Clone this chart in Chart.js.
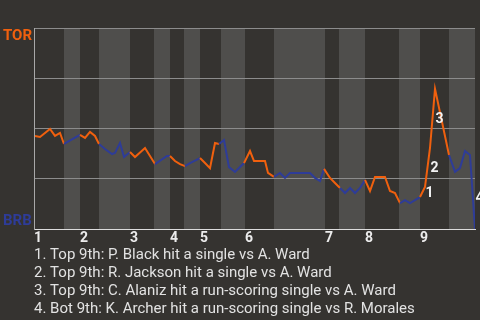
<!DOCTYPE html>
<html>
<head>
<meta charset="utf-8">
<script src="https://cdn.jsdelivr.net/npm/chart.js@4.4.1/dist/chart.umd.min.js"></script>
<style>
  html, body { margin: 0; padding: 0; background: #353330; }
  #wrap { width: 480px; height: 320px; position: relative; }
</style>
</head>
<body>
<div id="wrap"><canvas id="wpChart"></canvas></div>
<script>
// innings on the x axis (game progress units)
const innings     = ['1', '2', '3', '4', '5', '6', '7', '8', '9'];
const inningStart = [0, 9.2, 19.2, 27.2, 33.2, 42.2, 58.2, 66.2, 77.2];
const topHalfEnd  = [6, 13, 24, 30, 37.4, 48, 61, 73, 83];
const gameEnd     = 88.2;

// TOR win probability (%) through the game
const progress  = [0.2, 1.2, 3.2, 4.2, 5.2, 6.0, 9.2, 10.2, 11.2, 12.2, 13.0, 14.2, 15.6, 16.2, 17.2, 18.0,
                   19.2, 20.2, 22.2, 24.2, 26.6, 27.2, 28.2, 29.2, 30.2, 31.2, 33.2, 34.2, 35.2, 36.2, 37.0,
                   38.0, 39.0, 40.2, 42.0, 43.2, 44.0, 46.2, 46.8, 48.0, 49.2, 50.2, 51.2, 55.2, 56.2, 57.2,
                   58.0, 59.2, 60.2, 61.2, 62.2, 63.2, 64.2, 65.2, 66.2, 67.2, 68.2, 70.2, 71.2, 72.2, 73.2,
                   74.2, 75.2, 77.2, 78.2, 79.2, 80.2, 83.0, 84.2, 85.2, 86.2, 87.2, 88.2];
const torWinPct = [46.3, 45.8, 49.8, 46.3, 47.8, 42.3, 46.8, 45.3, 48.3, 46.3, 42.3, 39.8, 37.3, 37.8, 42.8, 35.8,
                   38.3, 35.8, 40.3, 32.3, 36.3, 36.3, 33.8, 32.3, 31.3, 32.8, 35.3, 32.8, 30.3, 42.8, 42.3,
                   44.3, 30.8, 28.4, 32.8, 38.8, 33.8, 33.8, 27.9, 25.9, 27.9, 25.4, 27.9, 27.9, 25.4, 23.9,
                   29.9, 25.4, 22.9, 20.4, 17.9, 20.4, 17.9, 20.4, 24.4, 18.9, 25.9, 25.9, 18.9, 17.9, 12.9,
                   14.4, 12.9, 15.9, 20.9, 40.3, 69.7, 36.8, 28.4, 30.3, 38.8, 36.8, 0];

// key plays, marked at the point where the play ends
const eventAt    = [78.2, 79.2, 80.2, 88.2];
const eventNotes = [
  '1. Top 9th: P. Black hit a single vs A. Ward',
  '2. Top 9th: R. Jackson hit a single vs A. Ward',
  '3. Top 9th: C. Alaniz hit a run-scoring single vs A. Ward',
  '4. Bot 9th: K. Archer hit a run-scoring single vs R. Morales'
];

const ORANGE = '#f0600e';
const BLUE   = '#2e3c98';
const BAND   = '#4f4e4c';
const FONT   = 'Roboto';

const isTopHalf = x => inningStart.some((s, i) => x >= s && x < topHalfEnd[i]);

const bandsPlugin = {
  id: 'bands',
  beforeDraw(chart) {
    const { ctx, chartArea: a, scales: { x } } = chart;
    ctx.save();
    ctx.fillStyle = BAND;
    topHalfEnd.forEach((from, i) => {
      const to = i + 1 < inningStart.length ? inningStart[i + 1] : gameEnd;
      const x0 = x.getPixelForValue(from), x1 = x.getPixelForValue(to);
      ctx.fillRect(x0, a.top, x1 - x0, a.bottom - a.top);
    });
    ctx.restore();
  }
};

const labelsPlugin = {
  id: 'labels',
  afterDatasetsDraw(chart) {
    const { ctx, chartArea: a } = chart;
    const pts = chart.getDatasetMeta(0).data;
    ctx.save();
    ctx.font = `bold 14px ${FONT}`;
    ctx.textBaseline = 'middle';
    ctx.textAlign = 'left';
    ctx.fillStyle = '#f2f2f2';
    eventAt.forEach((v, n) => {
      const i = progress.indexOf(v);
      const p1 = pts[i], p0 = pts[i - 1];
      const dy = n === 3 ? 6 : 1;
      ctx.fillText(String(n + 1), (p0.x + p1.x) / 2 + 3, (p0.y + p1.y) / 2 + dy);
    });
    ctx.font = `bold 15px ${FONT}`;
    ctx.fillStyle = ORANGE;
    ctx.fillText('TOR', 3, a.top + 8);
    ctx.fillStyle = BLUE;
    ctx.fillText('BRB', 3, a.bottom - 8);
    ctx.restore();
  }
};

new Chart(document.getElementById('wpChart'), {
  type: 'line',
  data: {
    datasets: [{
      data: progress.map((x, i) => ({ x, y: torWinPct[i] })),
      borderWidth: 2,
      pointRadius: 0,
      tension: 0,
      borderColor: ORANGE,
      segment: {
        borderColor: c => isTopHalf((c.p0.parsed.x + c.p1.parsed.x) / 2) ? ORANGE : BLUE
      }
    }]
  },
  options: {
    responsive: true,
    maintainAspectRatio: false,
    animation: false,
    layout: { padding: { top: 28, right: 5, left: 0, bottom: 0 } },
    plugins: {
      legend: { display: false },
      tooltip: { enabled: false },
      subtitle: {
        display: true,
        position: 'bottom',
        align: 'start',
        fullSize: false,
        text: eventNotes,
        color: '#e2e2e2',
        font: { family: FONT, size: 15, lineHeight: '18px' },
        padding: { top: 2, bottom: 2 }
      }
    },
    scales: {
      x: {
        type: 'linear',
        min: 0,
        max: gameEnd,
        afterBuildTicks: s => { s.ticks = inningStart.map(v => ({ value: v })); },
        afterFit: s => { s.height = 15; },
        grid: { display: false, drawTicks: false },
        border: { color: '#dcdcdc', width: 1 },
        ticks: {
          autoSkip: false,
          maxRotation: 0,
          align: 'start',
          padding: 1,
          color: '#ececec',
          font: { family: FONT, size: 14, weight: 'bold' },
          callback: (v, i) => innings[i]
        }
      },
      y: {
        min: 0,
        max: 100,
        afterFit: s => { s.width = 34; },
        grid: { color: '#8c8c8c', lineWidth: 1, drawTicks: false },
        border: { color: '#a8a8a8', width: 1 },
        ticks: { stepSize: 25, display: false }
      }
    }
  },
  plugins: [bandsPlugin, labelsPlugin]
});
</script>
</body>
</html>
